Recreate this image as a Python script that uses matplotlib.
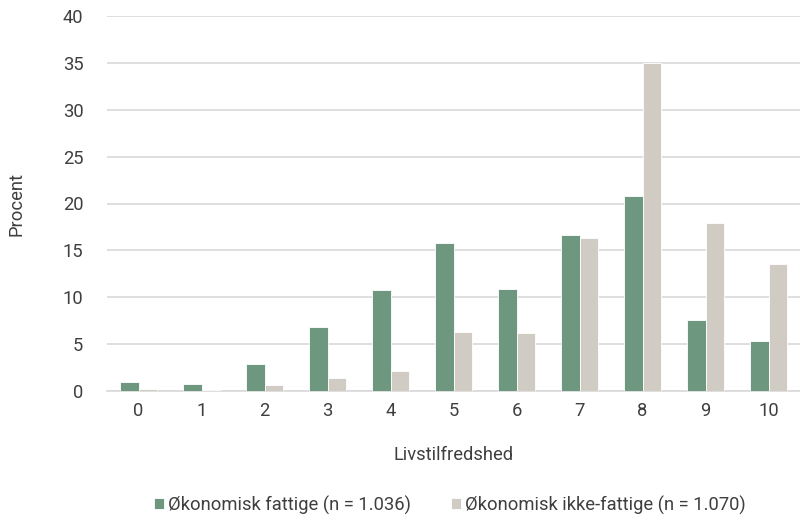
import matplotlib
matplotlib.use("Agg")
import matplotlib.pyplot as plt
import numpy as np

categories = ["0", "1", "2", "3", "4", "5", "6", "7", "8", "9", "10"]
fattige = [1.0, 0.8, 2.9, 6.8, 10.8, 15.8, 10.9, 16.6, 20.8, 7.6, 5.3]
ikke_fattige = [0.2, 0.1, 0.6, 1.4, 2.1, 6.3, 6.2, 16.3, 35.0, 17.9, 13.5]
yticks = [0, 5, 10, 15, 20, 25, 30, 35, 40]
label_a = "Økonomisk fattige (n = 1.036)"
label_b = "Økonomisk ikke-fattige (n = 1.070)"

plt.rcParams['font.family'] = ['Roboto', 'DejaVu Sans']
txt = '#3f3f3f'
fs = 13.2

fig = plt.figure(figsize=(8, 5.19), dpi=100)
ax = fig.add_axes([107/800, 1-391/519, (800-107)/800, (391-16)/519])

x = np.arange(len(categories))
w = 0.29
ax.bar(x - w/2, fattige, w, color='#6E977F', edgecolor='white', linewidth=0.6, label=label_a, zorder=3)
ax.bar(x + w/2, ikke_fattige, w, color='#D0CCC4', edgecolor='white', linewidth=0.6, label=label_b, zorder=3)

ax.set_xlim(-0.5, len(categories) - 0.5)
ax.set_ylim(0, 40)
ax.set_yticks(yticks)
ax.set_yticklabels([str(t) for t in yticks])
ax.set_xticks(x)
ax.set_xticklabels(categories)
ax.grid(axis='y', color='#D9D9D9', linewidth=1.2, zorder=0)
for s in ['top', 'right', 'left']:
    ax.spines[s].set_visible(False)
ax.spines['bottom'].set_color('#D9D9D9')
ax.spines['bottom'].set_linewidth(1.2)
ax.tick_params(axis='both', length=0, labelsize=fs, colors=txt, labelcolor=txt)
ax.tick_params(axis='y', pad=17)
ax.tick_params(axis='x', pad=8)
ax.set_xlabel("Livstilfredshed", fontsize=fs, color=txt, labelpad=19)
ax.set_ylabel("Procent", fontsize=fs, color=txt, labelpad=27)

fig.legend(loc='center', bbox_to_anchor=(0.5625, 1-505/519), ncol=2, frameon=False,
           fontsize=fs, labelcolor=txt, handlelength=0.55, handleheight=0.55,
           handletextpad=0.2, columnspacing=2.2)

fig.savefig("out.png", dpi=100)
